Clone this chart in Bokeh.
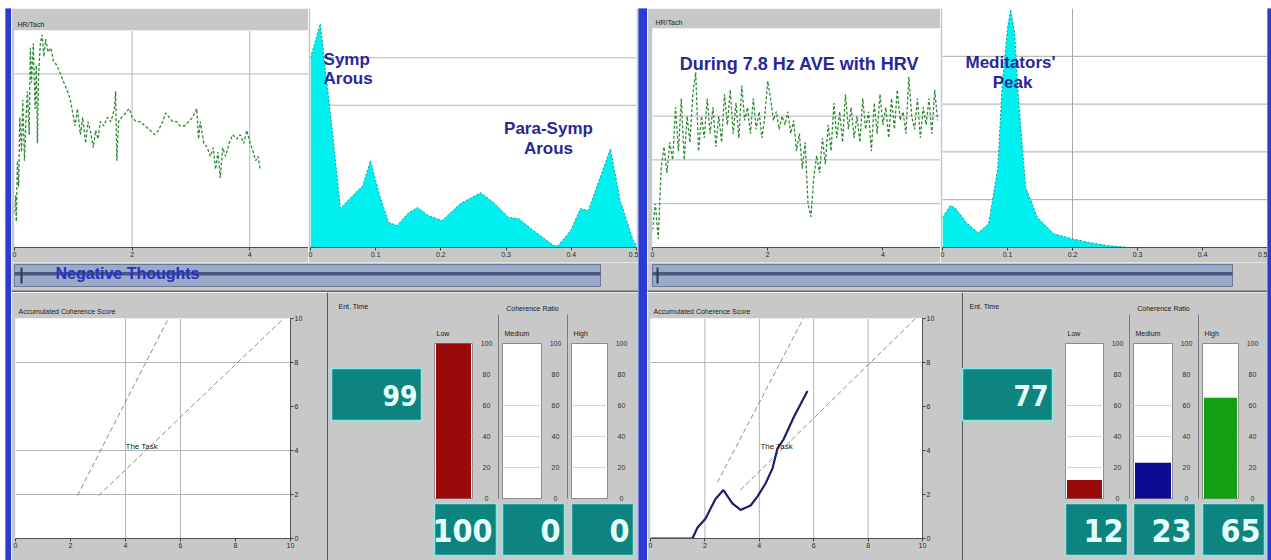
from bokeh.plotting import figure
from bokeh.layouts import row, column
from bokeh.models import Range1d, LinearAxis, FixedTicker, Span, Label
from bokeh.core.properties import value
from bokeh.embed import file_html
from bokeh.resources import INLINE

# ---------------- data ----------------
hr_ticks = [0, 2, 4]
spec_ticks = [0, 0.1, 0.2, 0.3, 0.4, 0.5]
acs_ticks = [0, 2, 4, 6, 8, 10]
gauge_ticks = [0, 20, 40, 60, 80, 100]

# heart rate, "Negative Thoughts" (minutes, bpm)
tl_t = [0.00, 0.02, 0.03, 0.05, 0.07, 0.09, 0.12, 0.14, 0.17, 0.19, 0.22, 0.25, 0.27, 0.29, 0.32,
        0.35, 0.37, 0.39, 0.41, 0.44, 0.47, 0.50, 0.53, 0.57, 0.62, 0.66, 0.72, 0.78, 0.84, 0.90,
        0.95, 0.99, 1.03, 1.07, 1.12, 1.16, 1.21, 1.25, 1.29, 1.34, 1.38, 1.42, 1.46, 1.52, 1.58,
        1.64, 1.70, 1.72, 1.74, 1.77, 1.82, 1.89, 1.95, 2.00, 2.07, 2.14, 2.22, 2.31, 2.38, 2.45,
        2.52, 2.57, 2.63, 2.69, 2.76, 2.82, 2.89, 2.96, 3.03, 3.10, 3.13, 3.16, 3.22, 3.28, 3.33,
        3.38, 3.42, 3.46, 3.50, 3.54, 3.59, 3.65, 3.71, 3.78, 3.84, 3.90, 3.95, 4.01, 4.06, 4.10,
        4.14, 4.18]
tl_hr = [58, 62, 56, 70, 64, 80, 72, 84, 70, 78, 86, 76, 96, 88, 97,
         82, 92, 74, 90, 97, 99, 94, 98, 95, 96, 93, 92, 90, 88, 86,
         84, 81, 78, 82, 76, 80, 74, 79, 77, 73, 77, 75, 79, 78, 80,
         79, 82, 86, 70, 79, 80, 81, 82, 80, 79, 79, 78, 77, 76, 77,
         79, 81, 80, 79, 79, 78, 78, 79, 80, 82, 75, 79, 74, 73, 71,
         73, 68, 72, 66, 73, 71, 74, 76, 75, 76, 74, 77, 74, 72, 70,
         71, 68]

# heart rate, during 7.8 Hz AVE with HRV
tr_t = [0.00, 0.05, 0.10, 0.15, 0.20, 0.25, 0.30, 0.35, 0.40, 0.45,
        0.50, 0.55, 0.60, 0.65, 0.70, 0.75, 0.80, 0.85, 0.90, 0.95,
        1.00, 1.05, 1.10, 1.15, 1.20, 1.25, 1.30, 1.35, 1.40, 1.45,
        1.50, 1.55, 1.60, 1.65, 1.70, 1.75, 1.80, 1.85, 1.90, 1.95,
        2.00, 2.05, 2.10, 2.15, 2.20, 2.25, 2.30, 2.35, 2.40, 2.45,
        2.50, 2.55, 2.60, 2.65, 2.70, 2.75, 2.80, 2.85, 2.90, 2.95,
        3.00, 3.05, 3.10, 3.15, 3.20, 3.25, 3.30, 3.35, 3.40, 3.45,
        3.50, 3.55, 3.60, 3.65, 3.70, 3.75, 3.80, 3.85, 3.90, 3.95,
        4.00, 4.05, 4.10, 4.15, 4.20, 4.25, 4.30, 4.35, 4.40, 4.45,
        4.50, 4.55, 4.60, 4.65, 4.70, 4.75, 4.80, 4.85, 4.90, 4.95]
tr_hr = [54, 60, 52, 68, 73, 67, 74, 70, 82, 72,
         84, 70, 80, 74, 85, 90, 72, 80, 75, 84,
         76, 82, 73, 80, 74, 85, 78, 86, 76, 83,
         75, 87, 79, 82, 76, 84, 77, 81, 75, 80,
         88, 84, 79, 81, 77, 80, 78, 81, 76, 79,
         72, 76, 68, 74, 60, 57, 66, 71, 67, 75,
         69, 78, 72, 83, 75, 81, 74, 85, 77, 82,
         75, 80, 74, 84, 77, 81, 72, 83, 76, 85,
         78, 82, 75, 84, 77, 86, 79, 81, 76, 89,
         80, 77, 84, 75, 82, 78, 84, 76, 86, 79]

# power spectra (Hz, power)
tl_freq = [0.000, 0.015, 0.034, 0.046, 0.057, 0.080, 0.092, 0.107, 0.120, 0.133,
           0.149, 0.164, 0.181, 0.202, 0.230, 0.261, 0.281, 0.304, 0.319, 0.342,
           0.373, 0.380, 0.399, 0.414, 0.426, 0.460, 0.475, 0.495, 0.500]
tl_pow = [100, 118, 60, 20.5, 24.7, 32.6, 45.8, 26.3, 13.2, 11.6,
          17.9, 21.1, 16.8, 14.2, 23.2, 28.9, 23.7, 15.8, 15.3, 8.9,
          1.1, 1.1, 8.9, 20.5, 19.5, 52.1, 24.7, 3.7, 1.0]
tr_freq = [0.000, 0.012, 0.020, 0.038, 0.055, 0.071, 0.085, 0.092, 0.100, 0.105,
           0.111, 0.117, 0.128, 0.146, 0.171, 0.197, 0.228, 0.254, 0.289, 0.500]
tr_pow = [0.63, 0.88, 0.82, 0.50, 0.31, 0.50, 1.67, 3.43, 4.60, 4.98,
          4.48, 3.08, 1.26, 0.63, 0.29, 0.19, 0.10, 0.04, 0.0, 0.0]

# accumulated coherence score (right session)
acs_x = [0, 1.54, 1.73, 2.02, 2.39, 2.68, 3.01, 3.31, 3.68, 3.93, 4.23, 4.49, 4.67, 4.89, 5.26, 5.77]
acs_y = [0, 0, 0.5, 0.9, 1.8, 2.2, 1.6, 1.3, 1.5, 1.9, 2.5, 3.2, 4.1, 4.5, 5.5, 6.7]
# "The Task" guide lines
task_l_a_x = [2.25, 5.56]; task_l_a_y = [1.95, 10]
task_l_b_x = [3.02, 9.75]; task_l_b_y = [1.95, 10]
task_r_a_x = [2.46, 5.62]; task_r_a_y = [2.55, 10]
task_r_b_x = [3.30, 9.74]; task_r_b_y = [2.20, 10]

# coherence ratio gauges
coh_labels = ["Low", "Medium", "High"]
left_coh = [100, 0, 0]
right_coh = [12, 23, 65]
left_score = 99
right_score = 77
coh_colors = ["#9a0a0a", "#0c0c92", "#12a012"]

# ---------------- styles ----------------
GRAY = "#c8c8c8"
BLUE = "#2a3bd2"
CYAN = "#00f0f0"
NAVY_TXT = "#28289a"
TEAL = "#0d847f"
GREEN = "#2f8a35"
FONT = "Liberation Sans"
NUMFONT = "Liberation Sans Narrow, DejaVu Sans Condensed"


def panel(width, height, xr, yr, l=0, r=0, t=0, b=0, bg="white", title=None, border=GRAY, standoff=3):
    p = figure(width=width, height=height, x_range=xr, y_range=yr,
               x_axis_location=None, y_axis_location=None,
               toolbar_location=None, output_backend="svg",
               min_border=0, min_border_left=l, min_border_right=r,
               min_border_top=t, min_border_bottom=b,
               background_fill_color=bg, border_fill_color=border,
               outline_line_color=None, title=title)
    p.frame_align = False
    p.grid.visible = False
    if title:
        p.title.text_font = FONT
        p.title.text_font_size = "7px"
        p.title.text_font_style = "normal"
        p.title.text_color = "#202020"
        p.title.align = "left"
        p.title.offset = 3
        p.title.standoff = standoff
    return p


def axis(p, where, ticks):
    ax = LinearAxis(ticker=FixedTicker(ticks=ticks))
    ax.major_label_text_font = FONT
    ax.major_label_text_font_size = "7px"
    ax.major_label_text_color = "#282828"
    ax.major_tick_out = 3
    ax.major_tick_in = 0
    ax.major_tick_line_color = "#404040"
    ax.axis_line_color = "#505050"
    ax.major_label_standoff = 1
    p.add_layout(ax, where)


def hline(p, y, color="#b4b4b4"):
    p.add_layout(Span(location=y, dimension="width", line_color=color, line_width=1, level="underlay"))


def vline(p, x, color="#b4b4b4"):
    p.add_layout(Span(location=x, dimension="height", line_color=color, line_width=1, level="underlay"))


def label(p, x, y, text, size="17px", align="left", color=NAVY_TXT):
    p.add_layout(Label(x=x, y=y, text=text, text_font=FONT, text_font_style="bold",
                       text_font_size=size, text_color=color, text_align=align,
                       text_baseline="alphabetic"))


def strip(width, height, color):
    p = panel(width, height, Range1d(0, 1), Range1d(0, 1), bg=color, border=color)
    p.quad(left=[0], right=[1], bottom=[0], top=[1], fill_color=color, line_color=None)
    return p


def hr_panel(width, l, t, ts, hs, title):
    p = panel(width, 254, Range1d(0, 5), Range1d(50, 100), l=l, t=t, b=15, title=title, standoff=6)
    p.line(ts, hs, line_color=GREEN, line_width=1.3, line_dash="3 2")
    axis(p, "below", hr_ticks)
    return p


def slider(width, bar_l, bar_r, thumb, text=None):
    p = panel(width, 30, Range1d(0, width), Range1d(30, 0), bg=GRAY)
    p.quad(left=[bar_l], right=[bar_r], top=[2], bottom=[24], fill_color="#9aaac8", line_color="#6a7898")
    p.quad(left=[bar_l], right=[bar_r], top=[9.5], bottom=[13], fill_color="#4b5682", line_color=None)
    p.quad(left=[thumb], right=[thumb + 2], top=[5], bottom=[21], fill_color="#303848", line_color=None)
    p.quad(left=[0], right=[width], top=[28], bottom=[30], fill_color="#666666", line_color=None)
    if text:
        p.text(x=[44], y=[11], text=[text], text_font=value(FONT), text_font_style="bold",
               text_font_size="16px", text_color="#2433c0", text_baseline="middle")
    return p


def acs_panel(width, l, r, title):
    p = panel(width, 268, Range1d(0, 10), Range1d(0, 10), l=l, r=r, t=26, b=22, title=title, standoff=8)
    axis(p, "below", acs_ticks)
    axis(p, "right", acs_ticks)
    return p


def gauge_panel(width, score, vals, dx):
    H = 268
    p = panel(width, H, Range1d(0, width), Range1d(H, 0), bg=GRAY)
    p.extra_y_ranges = {"pct": Range1d(-(H - 206) / 1.55, 100 + 51 / 1.55)}
    p.quad(left=[0], right=[1.5], top=[0], bottom=[H], fill_color="#5a5a5a", line_color=None)
    gl = [104 + dx, 172 + dx, 241 + dx]
    gr = [142 + dx, 211 + dx, 277 + dx]
    # separators
    p.segment(x0=[gl[1] - 4, gl[2] - 4], x1=[gl[1] - 4, gl[2] - 4], y0=[22, 22], y1=[206, 206],
              line_color="#7a7a7a", line_width=1)
    # headings
    p.text(x=[8 + dx], y=[14], text=["Ent. Time"], text_font=value(FONT), text_font_size="7px",
           text_color="#202020", text_baseline="middle")
    p.text(x=[202 + dx], y=[16], text=["Coherence Ratio"], text_font=value(FONT), text_font_size="7px",
           text_color="#202020", text_baseline="middle", text_align="center")
    p.text(x=[a + 2 for a in gl], y=[41] * 3, text=coh_labels, text_font=value(FONT),
           text_font_size="7px", text_color="#202020", text_baseline="middle")
    # gauges
    p.quad(left=gl, right=gr, bottom=[0] * 3, top=[100] * 3, y_range_name="pct",
           fill_color="white", line_color="#8c8c8c")
    for v in [20, 40, 60]:
        p.segment(x0=gl, x1=gr, y0=[v] * 3, y1=[v] * 3, y_range_name="pct",
                  line_color="#d6d6d6", line_width=1)
    p.vbar(x=[(a + b) / 2 for a, b in zip(gl, gr)], width=[b - a - 3 for a, b in zip(gl, gr)],
           bottom=[0] * 3, top=vals, y_range_name="pct", fill_color=coh_colors, line_color=None)
    for g in gr:
        p.text(x=[g + 14] * len(gauge_ticks), y=gauge_ticks, text=[str(t) for t in gauge_ticks],
               y_range_name="pct", text_font=value(FONT), text_font_size="7px",
               text_color="#303030", text_align="center", text_baseline="middle")
    # score box
    p.quad(left=[1 + dx], right=[91 + dx], top=[76], bottom=[128], fill_color=TEAL,
           line_color="#8fe8e8", line_width=1.5)
    p.text(x=[87 + dx], y=[103], text=[str(score)], text_font=value(NUMFONT), text_font_style="bold",
           text_font_size="28px", text_color="#e6ffff", text_align="right", text_baseline="middle")
    # value boxes
    p.quad(left=gl, right=[a + 62 for a in gl], top=[211] * 3, bottom=[263] * 3, fill_color=TEAL,
           line_color="#8fe8e8", line_width=1.5)
    p.text(x=[a + 58 for a in gl], y=[238] * 3, text=[str(v) for v in vals], text_font=value(NUMFONT),
           text_font_style="bold", text_font_size="32px", text_color="#e6ffff",
           text_align="right", text_baseline="middle")
    return p


# ---------------- top-left: negative thoughts ----------------
tl_hr_p = hr_panel(297, 3, 22, tl_t, tl_hr, "HR/Tach")
hline(tl_hr_p, 90)
vline(tl_hr_p, 2)
vline(tl_hr_p, 4)

tl_sp = panel(330, 254, Range1d(0, 0.5), Range1d(0, 126), l=2, r=2, t=0, b=15)
hline(tl_sp, 75)
hline(tl_sp, 100)
tl_sp.varea(x=tl_freq, y1=0, y2=tl_pow, fill_color=CYAN)
tl_sp.line(tl_freq, tl_pow, line_color="#1a9a9a", line_width=1, line_dash="2 2")
axis(tl_sp, "below", spec_ticks)
label(tl_sp, 0.02, 99, "Symp")
label(tl_sp, 0.02, 89, "Arous")
label(tl_sp, 0.365, 62.7, "Para-Symp", align="center")
label(tl_sp, 0.365, 52.2, "Arous", align="center")

# ---------------- top-right: during AVE ----------------
tr_hr_p = hr_panel(293, 5, 20, tr_t, tr_hr, "HR/Tach")
for v in [60, 70, 80]:
    hline(tr_hr_p, v)
label(tr_hr_p, 2.55, 91.8, "During 7.8 Hz AVE with HRV", size="18px", align="center")

tr_sp = panel(327, 254, Range1d(0, 0.5), Range1d(0, 5), l=2, r=0, t=0, b=15)
for v in [1, 2, 3, 4]:
    hline(tr_sp, v, "#a8a8a8")
vline(tr_sp, 0.2, "#a8a8a8")
tr_sp.varea(x=tr_freq, y1=0, y2=tr_pow, fill_color=CYAN)
tr_sp.line(tr_freq, tr_pow, line_color="#1a9a9a", line_width=1, line_dash="2 2")
axis(tr_sp, "below", spec_ticks)
label(tr_sp, 0.1046, 3.87, "Meditators'", align="center")
label(tr_sp, 0.1077, 3.45, "Peak", align="center")

# ---------------- sliders ----------------
sl_left = slider(627, 3, 589, 9, "Negative Thoughts")
sl_right = slider(620, 5, 585, 9)

# ---------------- bottom: accumulated coherence ----------------
bl = acs_panel(315, 4, 36, "Accumulated Coherence Score")
for v in [2, 4, 8]:
    hline(bl, v)
for v in [4, 6]:
    vline(bl, v)
bl.line(task_l_a_x, task_l_a_y, line_color="#8a8a8a", line_width=1, line_dash="5 3")
bl.line(task_l_b_x, task_l_b_y, line_color="#8a8a8a", line_width=1, line_dash="5 3")
bl.add_layout(Label(x=4.0, y=4.2, text="The Task", text_font=FONT, text_font_size="8px",
                    text_color="#202020", text_baseline="middle"))

br = acs_panel(314, 3, 39, "Accumulated Coherence Score")
hline(br, 8)
for v in [2, 4, 6, 8]:
    vline(br, v)
br.line(task_r_a_x, task_r_a_y, line_color="#8a8a8a", line_width=1, line_dash="5 3")
br.line(task_r_b_x, task_r_b_y, line_color="#8a8a8a", line_width=1, line_dash="5 3")
br.line(acs_x, acs_y, line_color="#1c1c70", line_width=2.2)
br.add_layout(Label(x=4.04, y=4.2, text="The Task", text_font=FONT, text_font_size="8px",
                    text_color="#202020", text_baseline="middle"))

bm = gauge_panel(312, left_score, left_coh, 4)
brg = gauge_panel(306, right_score, right_coh, 0)

left_col = column(row(tl_hr_p, tl_sp), sl_left, row(bl, bm))
right_col = column(row(tr_hr_p, tr_sp), sl_right, row(br, brg))
body = row(strip(5, 552, "white"), strip(6, 552, BLUE), left_col, strip(9, 552, BLUE),
           right_col, strip(4, 552, BLUE))
layout = column(strip(1271, 8, "white"), body)

open("out.html", "w").write(file_html(layout, INLINE))
